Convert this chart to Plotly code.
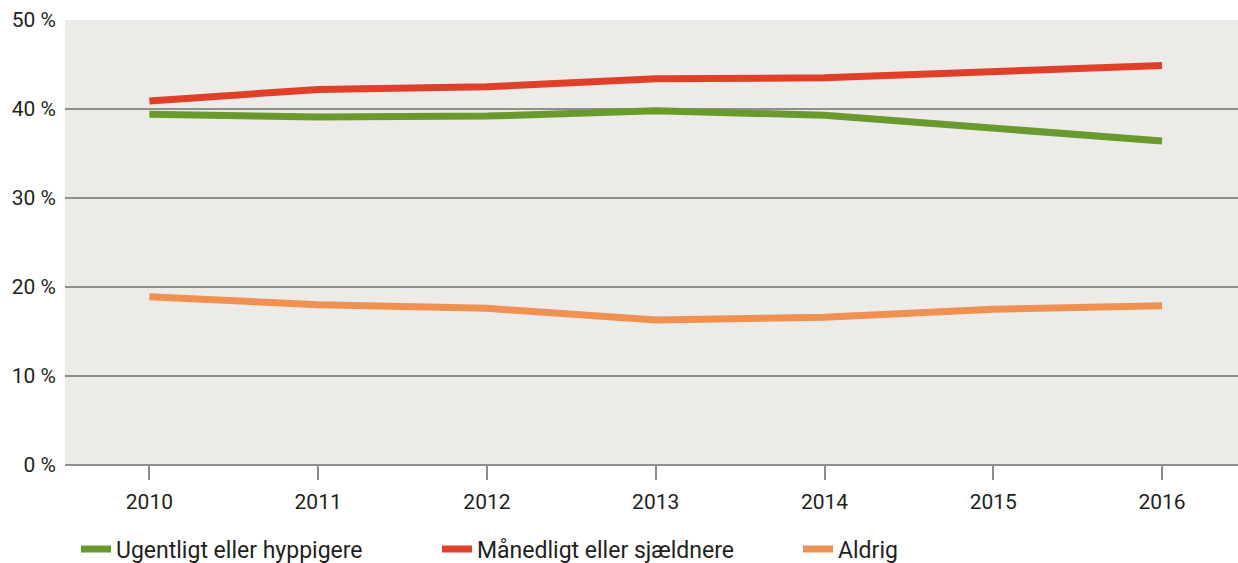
import plotly.graph_objects as go

years = [2010, 2011, 2012, 2013, 2014, 2015, 2016]
ugentligt = [39.4, 39.1, 39.2, 39.8, 39.3, 37.9, 36.4]
maanedligt = [40.9, 42.2, 42.5, 43.4, 43.5, 44.2, 44.9]
aldrig = [18.9, 18.0, 17.6, 16.3, 16.6, 17.5, 17.9]

series_names = ["Ugentligt eller hyppigere", "Månedligt eller sjældnere", "Aldrig"]
series_colors = ["#6a992e", "#e0402a", "#ee9152"]
y_ticks = [0, 10, 20, 30, 40, 50]
y_tick_labels = ["0 %", "10 %", "20 %", "30 %", "40 %", "50 %"]

fig = go.Figure()
for name, vals, col in zip(series_names, [ugentligt, maanedligt, aldrig], series_colors):
    fig.add_trace(go.Scatter(
        x=years, y=vals, name=name, mode="lines",
        line=dict(color=col, width=7),
    ))

font_family = "Roboto, 'DejaVu Sans', sans-serif"
fig.update_layout(
    width=1238, height=563,
    margin=dict(l=65, r=0, t=20, b=98, autoexpand=False),
    paper_bgcolor="white",
    plot_bgcolor="#edebe7",
    font=dict(family=font_family, size=21, color="#231f20"),
    showlegend=True,
    legend=dict(
        orientation="h", x=0.0094, xanchor="left", y=-0.1888, yanchor="middle",
        font=dict(size=23, color="#231f20"),
        entrywidth=316, entrywidthmode="pixels",
        bgcolor="rgba(0,0,0,0)",
    ),
    xaxis=dict(
        range=[2009.5, 2016.45],
        tickvals=years, ticktext=[str(y) for y in years],
        showgrid=False, zeroline=False, showline=False,
        ticks="outside", ticklen=14, tickwidth=2, tickcolor="#8c8c8c",
        tickfont=dict(size=21), ticklabelstandoff=4,
    ),
    yaxis=dict(
        range=[0, 50],
        tickvals=y_ticks, ticktext=y_tick_labels,
        showgrid=True, gridcolor="#8f8f8f", gridwidth=2,
        zeroline=True, zerolinecolor="#8f8f8f", zerolinewidth=2,
        showline=False, ticks="", ticklabelstandoff=8,
        tickfont=dict(size=21),
    ),
)

fig.write_html(
    "out.html",
    config={"responsive": False, "displayModeBar": False},
    post_script="document.body.style.margin='0';document.body.style.overflow='hidden';",
)
